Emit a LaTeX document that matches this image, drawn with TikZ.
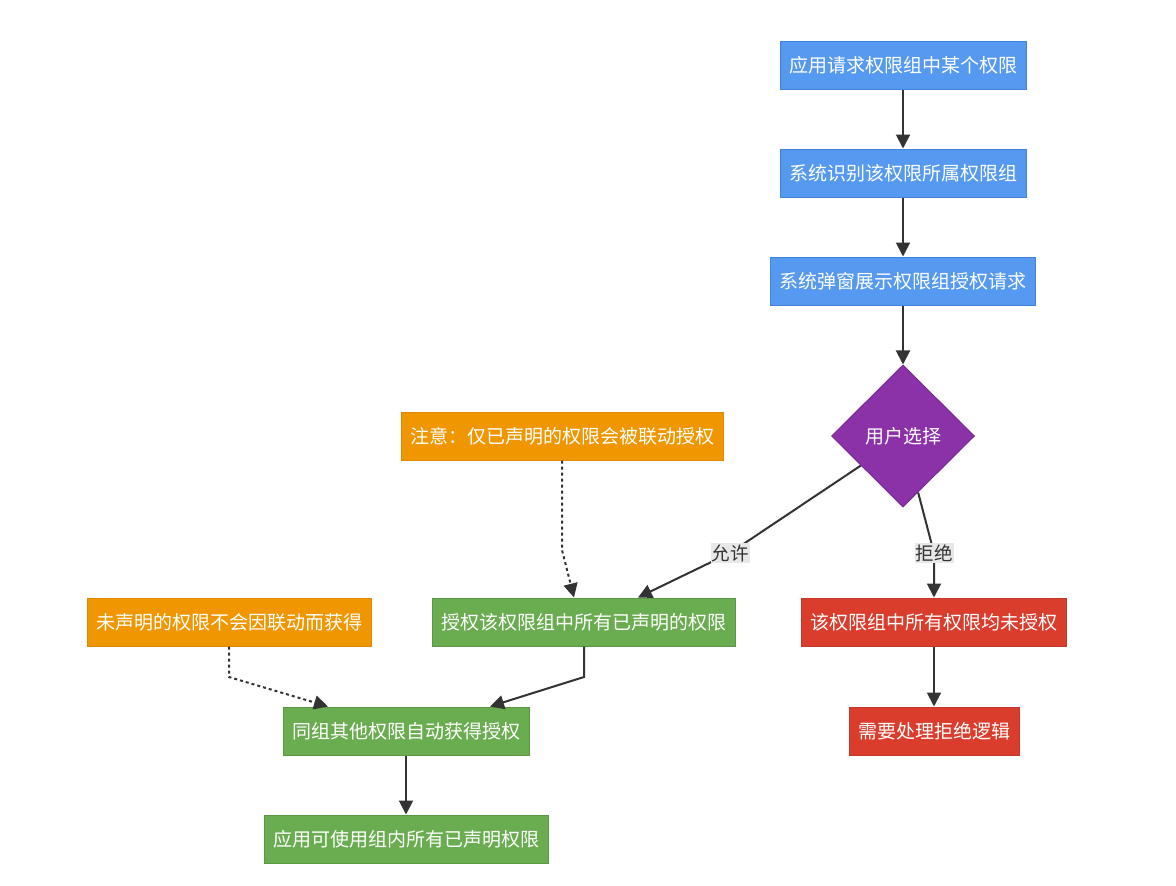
\documentclass[tikz,border=0pt]{standalone}
\usepackage{fontspec}
\setmainfont{Noto Sans CJK SC}
\usetikzlibrary{shapes.geometric,arrows.meta}

\definecolor{bluefill}{HTML}{5599F0}
\definecolor{blueline}{HTML}{4283DC}
\definecolor{greenfill}{HTML}{6AAC50}
\definecolor{greenline}{HTML}{5A9844}
\definecolor{redfill}{HTML}{DB3D2D}
\definecolor{redline}{HTML}{C2382A}
\definecolor{orangefill}{HTML}{F09600}
\definecolor{orangeline}{HTML}{E08800}
\definecolor{purplefill}{HTML}{8B32A9}
\definecolor{purpleline}{HTML}{7A2A96}
\definecolor{edgegray}{HTML}{333333}
\definecolor{labelgray}{HTML}{E8E8E8}

\begin{document}
\begin{tikzpicture}[x=1pt,y=-1pt,
    flow/.style={rectangle, minimum height=48pt, inner xsep=9pt, inner ysep=0pt,
      text=white, line width=1pt, font=\fontsize{19}{22}\selectfont},
    bluebox/.style={flow, fill=bluefill, draw=blueline},
    greenbox/.style={flow, fill=greenfill, draw=greenline},
    redbox/.style={flow, fill=redfill, draw=redline},
    notebox/.style={flow, fill=orangefill, draw=orangeline},
    choice/.style={diamond, minimum width=143pt, minimum height=142pt, inner sep=0pt,
      fill=purplefill, draw=purpleline, line width=1pt, text=white,
      font=\fontsize{19}{22}\selectfont},
    link/.style={draw=edgegray, line width=2pt, -{Triangle[length=14pt,width=14pt]}},
    notelink/.style={link, dash pattern=on 3pt off 3pt},
    elabel/.style={fill=labelgray, text=edgegray, inner sep=1pt,
      font=\fontsize{18.5}{21}\selectfont}]
          \useasboundingbox (0,0) rectangle (1176,886);

          % main line
          \node[bluebox] (ask) at (903,65) {应用请求权限组中某个权限};
          \node[bluebox] (ident) at (903,173) {系统识别该权限所属权限组};
          \node[bluebox] (popup) at (903,281) {系统弹窗展示权限组授权请求};
          \node[choice] (dia) at (903,436) {用户选择};

          % allow branch
          \node[notebox] (note) at (562,436) {注意：仅已声明的权限会被联动授权};
          \node[greenbox] (grant) at (584,622) {授权该权限组中所有已声明的权限};
          \node[notebox] (undecl) at (229,622) {未声明的权限不会因联动而获得};
          \node[greenbox] (same) at (406,731) {同组其他权限自动获得授权};
          \node[greenbox] (use) at (406,839) {应用可使用组内所有已声明权限};

          % deny branch
          \node[redbox] (deny) at (934,622) {该权限组中所有权限均未授权};
          \node[redbox] (handle) at (934,731) {需要处理拒绝逻辑};

          \coordinate (abend) at (730,553);
          \coordinate (rbend) at (934,553);
          \coordinate (nbend) at (562,550);
          \coordinate (gbend) at (584,677);
          \coordinate (ubend) at (229,677);

          \draw[link] (ask) -- (ident);
          \draw[link] (ident) -- (popup);
          \draw[link] (popup) -- (dia);
          \draw[link] (dia.215) -- (abend) -- ([xshift=54pt]grant.north);
          \draw[link] (dia.-75) -- (rbend) -- (deny.north);
          \draw[link] (deny) -- (handle);
          \draw[notelink] (note.south) -- (nbend) -- ([xshift=-10pt]grant.north);
          \draw[link] (grant.south) -- (gbend) -- ([xshift=84pt]same.north);
          \draw[notelink] (undecl.south) -- (ubend) -- ([xshift=-78pt]same.north);
          \draw[link] (same) -- (use);

          \node[elabel] (allow) at (abend) {允许};
          \node[elabel] (reject) at (rbend) {拒绝};
        \end{tikzpicture}
\end{document}
